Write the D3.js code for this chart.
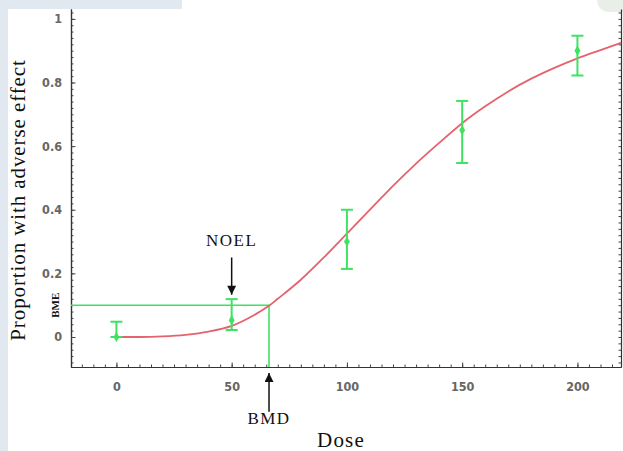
<!DOCTYPE html>
<html>
<head>
<meta charset="utf-8">
<script src="https://cdn.jsdelivr.net/npm/d3@7/dist/d3.min.js"></script>
<style>
  html, body { margin: 0; padding: 0; background: #ffffff; }
  svg { display: block; }
  .tick text { font-family: "Liberation Sans Narrow", "DejaVu Sans Condensed", sans-serif; font-stretch: condensed; font-weight: bold; fill: #666666; }
  .serif { font-family: "Liberation Serif", "Times New Roman", Tinos, serif; fill: #111111; }
</style>
</head>
<body>
<div id="chart"></div>
<script>
//------------------------------------------------------------------------ Data
// observed proportions with error bars
var doses    = [0, 50, 100, 150, 200];
var observed = [0, 0.053, 0.30, 0.65, 0.90];
var lowerCI  = [0, 0.022, 0.214, 0.547, 0.822];
var upperCI  = [0.048, 0.119, 0.40, 0.742, 0.947];

// fitted dose-response curve
var curveDose = [0, 10, 20, 30, 40, 50, 60, 66.2, 70, 80, 90, 100, 110, 120, 130, 140, 150, 160, 170, 180, 190, 200, 210, 219];
var curveProp = [0, 0, 0.002, 0.007, 0.017, 0.035, 0.07, 0.098, 0.12, 0.18, 0.25, 0.325, 0.40, 0.475, 0.545, 0.61, 0.672, 0.725, 0.772, 0.812, 0.846, 0.876, 0.902, 0.925];

// tick labels
var xTicks = [0, 50, 100, 150, 200];
var yTicks = [0, 0.2, 0.4, 0.6, 0.8, 1];

// benchmark values
var bmr  = 0.1;
var bmd  = 66.2;
var noel = 50;

//------------------------------------------------------------------------ Layout
var W = 623, H = 451;
var margin = {top: 9, right: 2, bottom: 84, left: 71};

var svg = d3.select("#chart").append("svg")
  .attr("width", W)
  .attr("height", H);

// washed-out page background around the figure
svg.append("rect").attr("x", 0).attr("y", 0).attr("width", 182).attr("height", 9).attr("fill", "#e2e8f0");
svg.append("rect").attr("x", 0).attr("y", 0).attr("width", 8).attr("height", H).attr("fill", "#e2e8f0");
svg.append("rect").attr("x", 597).attr("y", -14).attr("width", 40).attr("height", 26).attr("rx", 12).attr("fill", "#eaeee9");

var x = d3.scaleLinear().domain([-19.7, 218.9]).range([margin.left, W - margin.right]);
var y = d3.scaleLinear().domain([-0.0943, 1.031]).range([H - margin.bottom, margin.top]);

var green = "#3fe262";
var red = "#e5636c";

//------------------------------------------------------------------------ Axes
var xMinor = d3.range(-15, 219, 5);
var yMinor = d3.range(-0.08, 1.03, 0.02);

// minor ticks
svg.append("g").attr("transform", "translate(0," + y.range()[0] + ")")
  .call(d3.axisBottom(x).tickValues(xMinor).tickSize(-2.5).tickFormat("").tickSizeOuter(0));
svg.append("g").attr("transform", "translate(" + x.range()[0] + ",0)")
  .call(d3.axisLeft(y).tickValues(yMinor).tickSize(-2.5).tickFormat("").tickSizeOuter(0));
svg.append("g").attr("transform", "translate(" + (W - 2) + ",0)")
  .call(d3.axisRight(y).tickValues(yMinor).tickSize(-2.5).tickFormat("").tickSizeOuter(0));

// major ticks with labels
svg.append("g").attr("transform", "translate(0," + y.range()[0] + ")")
  .call(d3.axisBottom(x).tickValues(xTicks).tickSize(-4.5).tickPadding(15).tickSizeOuter(0))
  .call(function(g){ g.selectAll("text").attr("font-size", 12.5); });
svg.append("g").attr("transform", "translate(" + x.range()[0] + ",0)")
  .call(d3.axisLeft(y).tickValues(yTicks).tickSize(-4.5).tickPadding(9).tickSizeOuter(0).tickFormat(d3.format("~g")))
  .call(function(g){ g.selectAll("text").attr("font-size", 12.5); });

svg.selectAll(".domain").attr("stroke", "#333").attr("stroke-width", 1.2);
svg.selectAll(".tick line").attr("stroke", "#444");

//------------------------------------------------------------------------ BMR / BMD guide lines
svg.append("line")
  .attr("x1", x.range()[0]).attr("x2", x(bmd))
  .attr("y1", y(bmr)).attr("y2", y(bmr))
  .attr("stroke", green).attr("stroke-width", 1.6);
svg.append("line")
  .attr("x1", x(bmd)).attr("x2", x(bmd))
  .attr("y1", y(bmr)).attr("y2", y.range()[0])
  .attr("stroke", green).attr("stroke-width", 1.6);

//------------------------------------------------------------------------ Fitted curve
var line = d3.line()
  .x(function(d, i){ return x(curveDose[i]); })
  .y(function(d){ return y(d); })
  .curve(d3.curveMonotoneX);

svg.append("path")
  .datum(curveProp)
  .attr("d", line)
  .attr("fill", "none")
  .attr("stroke", red)
  .attr("stroke-width", 1.8);

//------------------------------------------------------------------------ Error bars
var bars = svg.append("g").selectAll("g")
  .data(doses)
  .enter().append("g");

bars.append("line")
  .attr("x1", function(d){ return x(d); }).attr("x2", function(d){ return x(d); })
  .attr("y1", function(d, i){ return y(lowerCI[i]); })
  .attr("y2", function(d, i){ return y(upperCI[i]); })
  .attr("stroke", green).attr("stroke-width", 2);

[lowerCI, upperCI].forEach(function(arr){
  bars.append("line")
    .attr("x1", function(d){ return x(d) - 6; }).attr("x2", function(d){ return x(d) + 6; })
    .attr("y1", function(d, i){ return y(arr[i]); })
    .attr("y2", function(d, i){ return y(arr[i]); })
    .attr("stroke", green).attr("stroke-width", 2);
});

bars.append("path")
  .attr("d", d3.symbol().type(d3.symbolDiamond).size(30))
  .attr("transform", function(d, i){ return "translate(" + x(d) + "," + y(observed[i]) + ")"; })
  .attr("fill", green);

//------------------------------------------------------------------------ Annotations
var defs = svg.append("defs");
defs.append("marker")
  .attr("id", "arrow")
  .attr("viewBox", "0 0 10 10")
  .attr("refX", 10).attr("refY", 5)
  .attr("markerWidth", 12).attr("markerHeight", 9)
  .attr("markerUnits", "userSpaceOnUse")
  .attr("orient", "auto")
  .append("path").attr("d", "M0,0 L10,5 L0,10 Z").attr("fill", "#111");

// NOEL
svg.append("line")
  .attr("x1", x(noel)).attr("x2", x(noel))
  .attr("y1", y(0.25)).attr("y2", y(0.133))
  .attr("stroke", "#111").attr("stroke-width", 1.5)
  .attr("marker-end", "url(#arrow)");
svg.append("text")
  .attr("class", "serif")
  .attr("x", x(noel)).attr("y", y(0.285))
  .attr("text-anchor", "middle")
  .attr("font-size", 17).attr("letter-spacing", 1.5)
  .text("NOEL");

// BMD
svg.append("line")
  .attr("x1", x(bmd)).attr("x2", x(bmd))
  .attr("y1", y(-0.235)).attr("y2", y(-0.113))
  .attr("stroke", "#111").attr("stroke-width", 1.5)
  .attr("marker-end", "url(#arrow)");
svg.append("text")
  .attr("class", "serif")
  .attr("x", x(bmd)).attr("y", y(-0.272))
  .attr("text-anchor", "middle")
  .attr("font-size", 17).attr("letter-spacing", 1.5)
  .text("BMD");

// BME small label beside y axis
svg.append("text")
  .attr("class", "serif")
  .attr("transform", "translate(59," + y(0.1) + ") rotate(-90)")
  .attr("text-anchor", "middle")
  .attr("font-size", 11).attr("font-weight", "bold")
  .text("BME");

//------------------------------------------------------------------------ Axis titles
svg.append("text")
  .attr("class", "serif")
  .attr("transform", "translate(25,200) rotate(-90)")
  .attr("text-anchor", "middle")
  .attr("font-size", 21).attr("letter-spacing", 0.9)
  .text("Proportion with adverse effect");

svg.append("text")
  .attr("class", "serif")
  .attr("x", 341).attr("y", 447)
  .attr("text-anchor", "middle")
  .attr("font-size", 21).attr("letter-spacing", 1.2)
  .text("Dose");
</script>
</body>
</html>
